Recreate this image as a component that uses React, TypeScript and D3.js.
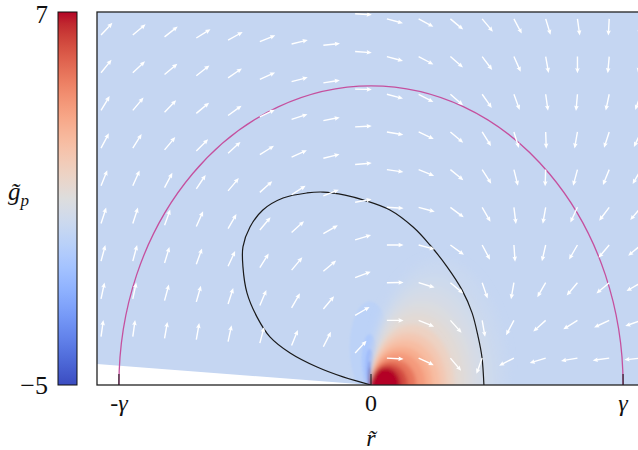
import React from "react";
import * as d3 from "d3";

// ---------- axes ----------
const X_DOMAIN: [number, number] = [-1.087, 1.087]; // units of gamma
const Y_DOMAIN: [number, number] = [0, 1.247];
const X_TICKS = [-1, 0, 1];
const X_TICK_LABELS = ["-γ", "0", "γ"];
const CBAR_MIN = -5;
const CBAR_MAX = 7;
const CBAR_LABELS = ["7", "−5"];

// matplotlib "coolwarm" samples (33)
const COOLWARM: [number, number, number][] = [
  [59, 76, 192], [68, 90, 204], [77, 104, 215], [87, 117, 225], [98, 130, 234],
  [108, 142, 241], [119, 154, 247], [130, 165, 251], [141, 176, 254], [152, 185, 255],
  [163, 194, 255], [174, 201, 253], [184, 208, 249], [194, 213, 244], [204, 217, 238],
  [213, 219, 230], [221, 221, 221], [229, 216, 209], [236, 211, 197], [241, 204, 185],
  [245, 196, 173], [247, 187, 160], [247, 177, 148], [247, 166, 135], [244, 154, 123],
  [241, 141, 111], [236, 127, 99], [229, 112, 88], [222, 96, 77], [213, 80, 66],
  [203, 62, 56], [192, 40, 47], [180, 4, 38],
];

// ---------- field (g_p) ----------
const BACKGROUND_VALUE = 0;
// iso-lines of the warm lobe, all touching the origin: [value, half width R, height / R]
const WARM_LEVELS: [number, number, number][] = [
  [0.15, 0.27, 1.55], [0.35, 0.245, 1.5], [0.6, 0.225, 1.45], [0.9, 0.205, 1.38],
  [1.3, 0.185, 1.3], [1.8, 0.165, 1.22], [2.3, 0.15, 1.16], [2.8, 0.137, 1.1],
  [3.4, 0.122, 1.05], [4, 0.108, 1.0], [5, 0.09, 0.95], [6, 0.073, 0.95], [7, 0.058, 1.0],
];
// cold spike just left of the origin: [value, half width, height]
const COLD_LEVELS: [number, number, number][] = [
  [-0.35, 0.08, 0.28], [-0.9, 0.032, 0.17], [-1.7, 0.018, 0.12], [-3, 0.009, 0.08], [-5, 0.005, 0.06],
];
const COLD_X = -0.005;

// region without data (white wedge)
const WEDGE: [number, number][] = [[-1.087, 0.07], [0, 0], [-1.087, 0]];

// ---------- contours ----------
const GAMMA = 1;
const BLACK_CONTOUR: [number, number][] = [
  [0, 0], [-0.111, 0.027], [-0.214, 0.06], [-0.321, 0.107], [-0.401, 0.161],
  [-0.452, 0.227], [-0.492, 0.308], [-0.508, 0.395], [-0.508, 0.462], [-0.48, 0.528],
  [-0.429, 0.585], [-0.349, 0.625], [-0.254, 0.642], [-0.19, 0.645], [-0.103, 0.635],
  [-0.032, 0.619], [0.075, 0.585], [0.167, 0.528], [0.234, 0.468], [0.302, 0.395],
  [0.361, 0.318], [0.401, 0.241], [0.425, 0.161], [0.44, 0.094], [0.448, 0],
];

// ---------- quiver ----------
const QUIVER_X = [
  -1.071, -0.945, -0.819, -0.693, -0.567, -0.441, -0.315, -0.189, -0.063,
  0.063, 0.189, 0.315, 0.441, 0.567, 0.693, 0.819, 0.945, 1.071,
];
// lowest row of each column (rows follow the sloping lower boundary on the left)
const QUIVER_Y0 = [
  0.162, 0.162, 0.156, 0.152, 0.145, 0.14, 0.132, 0.128, 0.107,
  0.09, 0.09, 0.09, 0.09, 0.09, 0.09, 0.09, 0.09, 0.09,
];
const QUIVER_DY = 0.126;
// arrow directions in degrees (as seen), rows from top (j=9) to bottom (j=0)
const N = null;
const QUIVER_ANGLES: (number | null)[][] = [
  [N, N, N, N, N, N, N, N, -3, -15, -28, -40, -50, -62, -73, -82, -93, -96],
  [47, 40, 38, 32, 29, 22, 14, 6, -4, -15, -28, -41, -53, -66, -80, -90, -95, -100],
  [51, 43, 40, 38, 34, 24, 15, 9, -1, -15, -28, -41, -55, -70, -82, -95, -102, -110],
  [59, 50, 46, 40, 36, 26, 18, 11, 3, -10, -25, -40, -58, -73, -88, -100, -108, -115],
  [62, 58, 50, 45, 42, 32, 24, 14, 5, -8, -22, -39, -57, -76, -92, -105, -112, -120],
  [68, 66, 62, 56, 50, 42, 33, 22, 10, -3, -15, -37, -60, -83, -100, -115, -127, -130],
  [72, 72, 70, 66, 60, 50, 42, 30, 17, 0, -15, -36, -62, -86, -103, -120, -130, -140],
  [75, 75, 73, 70, 65, 58, 50, 40, 21, 1, -17, -40, -71, -100, -120, -130, -140, -150],
  [78, 78, 75, 74, 72, 67, 60, 50, 30, 0, -22, -48, -80, -118, -138, -148, -155, -160],
  [82, 82, 80, 80, 78, 75, 68, 63, 47, -3, -25, -50, -110, -153, -163, -170, -172, -174],
];

const FONT = "Liberation Serif, DejaVu Serif, serif";

function arrowPath(x0: number, y0: number, deg: number) {
  const L = 16.7, w = 1.4, hl = 5.2, hw = 4.6, ha = 4.6;
  const a = (deg * Math.PI) / 180;
  const ux = Math.cos(a), uy = -Math.sin(a);
  const nx = -uy, ny = ux;
  const p = (s: number, t: number) => [x0 + ux * s + nx * t, y0 + uy * s + ny * t];
  const pts = [
    p(0, w / 2), p(L - ha, w / 2), p(L - hl, hw / 2), p(L, 0),
    p(L - hl, -hw / 2), p(L - ha, -w / 2), p(0, -w / 2),
  ];
  return "M" + pts.map((q) => q[0].toFixed(2) + "," + q[1].toFixed(2)).join("L") + "Z";
}

export default function App() {
  const left = 97, right = 645, top = 12, bottom = 385;
  const x = d3.scaleLinear().domain(X_DOMAIN).range([left, right]);
  const y = d3.scaleLinear().domain(Y_DOMAIN).range([bottom, top]);

  const cDomain = COOLWARM.map((_, i) => CBAR_MIN + ((CBAR_MAX - CBAR_MIN) * i) / (COOLWARM.length - 1));
  const color = d3
    .scaleLinear<string>()
    .domain(cDomain)
    .range(COOLWARM.map((c) => d3.rgb(c[0], c[1], c[2]).formatHex()))
    .interpolate(d3.interpolateRgb)
    .clamp(true);

  const cbX0 = 58, cbX1 = 77;
  const cbScale = d3.scaleLinear().domain([CBAR_MIN, CBAR_MAX]).range([bottom, top]);

  const contourLine = d3
    .line<[number, number]>()
    .x((d) => x(d[0]))
    .y((d) => y(d[1]))
    .curve(d3.curveCatmullRom.alpha(0.5));
  const wedgeLine = d3
    .line<[number, number]>()
    .x((d) => x(d[0]))
    .y((d) => y(d[1]));

  const arrows: { d: string; key: string }[] = [];
  const nRows = QUIVER_ANGLES.length;
  QUIVER_ANGLES.forEach((row, r) => {
    const j = nRows - 1 - r;
    row.forEach((ang, k) => {
      if (ang === null) return;
      const yd = QUIVER_Y0[k] + j * QUIVER_DY;
      if (yd > Y_DOMAIN[1]) return;
      arrows.push({ d: arrowPath(x(QUIVER_X[k]), y(yd), ang), key: `${j}-${k}` });
    });
  });

  const rx = (v: number) => x(v) - x(0);
  const ry = (v: number) => y(0) - y(v);
  const txt = { fontFamily: FONT, fill: "#111" } as React.CSSProperties;

  return (
    <svg
      width={638}
      height={450}
      style={{ position: "absolute", left: 0, top: 0, background: "#fff" }}
    >
      <defs>
        <clipPath id="plot">
          <rect x={left} y={top} width={right - left} height={bottom - top} />
        </clipPath>
        <filter id="blurOuter" x="-50%" y="-50%" width="200%" height="200%">
          <feGaussianBlur stdDeviation="5" />
        </filter>
        <filter id="blurWarm" x="-50%" y="-50%" width="200%" height="200%">
          <feGaussianBlur stdDeviation="2.2" />
        </filter>
        <filter id="blurCold" x="-50%" y="-50%" width="200%" height="200%">
          <feGaussianBlur stdDeviation="1" />
        </filter>
        <linearGradient id="cbar" x1="0" y1="1" x2="0" y2="0">
          {cDomain.map((v, i) => (
            <stop key={i} offset={(v - CBAR_MIN) / (CBAR_MAX - CBAR_MIN)} stopColor={color(v)} />
          ))}
        </linearGradient>
      </defs>

      {/* heat map */}
      <g clipPath="url(#plot)">
        <rect x={left} y={top} width={right - left} height={bottom - top} fill={color(BACKGROUND_VALUE)} />
        <g filter="url(#blurCold)">
          {COLD_LEVELS.map(([v, hw, h], i) => (
            <ellipse
              key={i}
              cx={x(COLD_X)}
              cy={y(h * 0.45)}
              rx={rx(hw)}
              ry={ry(h * 0.55)}
              fill={color(v)}
            />
          ))}
        </g>
        <g filter="url(#blurOuter)">
          {WARM_LEVELS.filter((l) => l[0] < 1.5).map(([v, R, f], i) => (
            <ellipse key={i} cx={x(R)} cy={y(0)} rx={rx(R)} ry={ry(R * f)} fill={color(v)} />
          ))}
        </g>
        <g filter="url(#blurWarm)">
          {WARM_LEVELS.filter((l) => l[0] >= 1.5).map(([v, R, f], i) => (
            <ellipse key={i} cx={x(R)} cy={y(0)} rx={rx(R)} ry={ry(R * f)} fill={color(v)} />
          ))}
        </g>
        <path d={wedgeLine(WEDGE) + "Z"} fill="#fff" />
      </g>

      {/* contours */}
      <g clipPath="url(#plot)" fill="none">
        <path
          d={`M${x(-GAMMA)},${y(0)} A${rx(GAMMA)},${ry(GAMMA)} 0 0 1 ${x(GAMMA)},${y(0)}`}
          stroke="#c5509e"
          strokeWidth={1.3}
        />
        <path d={contourLine(BLACK_CONTOUR) || ""} stroke="#1a1a1a" strokeWidth={1.2} />
      </g>

      {/* quiver */}
      <g clipPath="url(#plot)" fill="#ffffff">
        {arrows.map((a) => (
          <path key={a.key} d={a.d} />
        ))}
      </g>

      {/* ticks */}
      {X_TICKS.map((t) => (
        <line key={t} x1={x(t)} x2={x(t)} y1={bottom} y2={bottom - 11} stroke="#111" strokeWidth={1} />
      ))}

      {/* frame */}
      <rect
        x={left}
        y={top}
        width={right - left}
        height={bottom - top}
        fill="none"
        stroke="#222"
        strokeWidth={1.3}
      />

      {/* tick labels */}
      {X_TICKS.map((t, i) => (
        <text
          key={t}
          x={x(t)}
          y={411}
          textAnchor="middle"
          fontSize={24}
          style={{ ...txt, fontStyle: i === 1 ? "normal" : "italic" }}
        >
          {X_TICK_LABELS[i]}
        </text>
      ))}
      <text x={x(0)} y={446} textAnchor="middle" fontSize={24} style={{ ...txt, fontStyle: "italic" }}>
        r̃
      </text>

      {/* colorbar */}
      <rect x={cbX0} y={top} width={cbX1 - cbX0} height={bottom - top} fill="url(#cbar)" stroke="#111" strokeWidth={1} />
      <text x={48} y={cbScale(CBAR_MAX) + 11} textAnchor="end" fontSize={25} style={txt}>
        {CBAR_LABELS[0]}
      </text>
      <text x={48} y={cbScale(CBAR_MIN) + 9} textAnchor="end" fontSize={26} style={txt}>
        {CBAR_LABELS[1]}
      </text>
      <text x={8} y={200} fontSize={25} style={{ ...txt, fontStyle: "italic" }}>
        g̃
        <tspan fontSize={17} dy={6}>p</tspan>
      </text>
    </svg>
  );
}
